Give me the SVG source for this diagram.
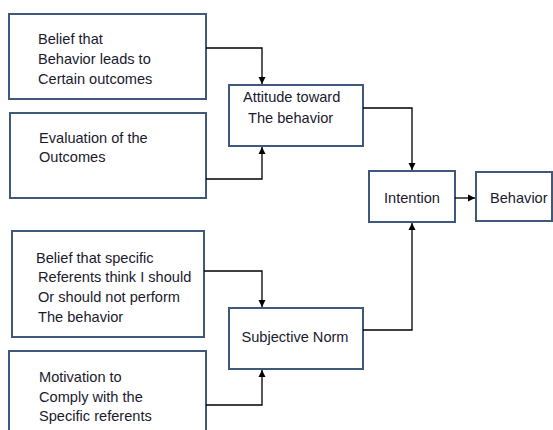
<svg xmlns="http://www.w3.org/2000/svg" width="553" height="430" viewBox="0 0 553 430">
<defs>
<marker id="ah" markerWidth="8" markerHeight="8" refX="7" refY="4" orient="auto" markerUnits="userSpaceOnUse">
<path d="M0,0.5 L7,4 L0,7.5 Z" fill="#000"/>
</marker>
<style>
.box{fill:#fff;stroke:#41587d;stroke-width:2}
.t{font-family:"Liberation Sans",Arial,sans-serif;font-size:14.6px;fill:#1a1a2e}
.c{fill:none;stroke:#000;stroke-width:1.3;marker-end:url(#ah)}
</style>
</defs>
<rect width="553" height="430" fill="#fff"/>
<g id="belief1">
<rect class="box" x="9" y="14" width="197" height="85"/>
<text class="t" x="38" y="44">Belief that</text>
<text class="t" x="38" y="64">Behavior leads to</text>
<text class="t" x="38" y="84">Certain outcomes</text>
</g>
<g id="evaluation">
<rect class="box" x="10" y="113" width="196" height="85"/>
<text class="t" x="39" y="143">Evaluation of the</text>
<text class="t" x="39" y="162">Outcomes</text>
</g>
<g id="attitude">
<rect class="box" x="229" y="85" width="134" height="61"/>
<text class="t" x="243" y="102">Attitude toward</text>
<text class="t" x="248" y="123">The behavior</text>
</g>
<g id="intention">
<rect class="box" x="369" y="171" width="86" height="51"/>
<text class="t" x="412" y="203" text-anchor="middle">Intention</text>
</g>
<g id="behavior">
<rect class="box" x="476" y="172" width="76" height="49"/>
<text class="t" x="490" y="203">Behavior</text>
</g>
<g id="belief2">
<rect class="box" x="12" y="231" width="192" height="106"/>
<text class="t" x="36" y="263">Belief that specific</text>
<text class="t" x="38" y="282">Referents think I should</text>
<text class="t" x="38" y="302">Or should not perform</text>
<text class="t" x="38" y="322">The behavior</text>
</g>
<g id="motivation">
<rect class="box" x="9" y="351" width="197" height="90"/>
<text class="t" x="39" y="382">Motivation to</text>
<text class="t" x="39" y="402">Comply with the</text>
<text class="t" x="39" y="421">Specific referents</text>
</g>
<g id="subjective">
<rect class="box" x="229" y="308" width="134" height="61"/>
<text class="t" x="295" y="342" text-anchor="middle">Subjective Norm</text>
</g>
<g id="connectors">
<path class="c" d="M206,48 H262 V84"/>
<path class="c" d="M206,179 H262 V147"/>
<path class="c" d="M363,108 H412 V170"/>
<path class="c" d="M455,198 H475"/>
<path class="c" d="M204,271 H262 V307"/>
<path class="c" d="M206,405 H262 V370"/>
<path class="c" d="M363,330 H412 V223"/>
</g>
</svg>
